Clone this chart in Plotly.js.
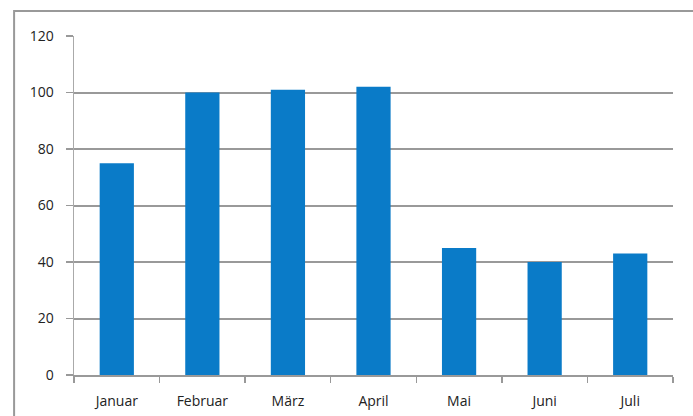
<!DOCTYPE html>
<html>
<head>
<meta charset="utf-8">
<script src="https://cdn.plot.ly/plotly-3.0.1.min.js"></script>
<style>html,body{margin:0;padding:0;background:#fff;overflow:hidden;} #chart{width:693px;height:416px;}</style>
</head>
<body>
<div id="chart"></div>
<script>
const months = ["Januar", "Februar", "März", "April", "Mai", "Juni", "Juli"];
const values = [75, 100, 101, 102, 45, 40, 43];
const yTicks = [0, 20, 40, 60, 80, 100, 120];

const trace = {
  type: "bar",
  x: months,
  y: values,
  marker: {color: "#0a7bc8"},
  hoverinfo: "x+y"
};

const layout = {
  width: 693,
  height: 416,
  margin: {l: 74, r: 20, t: 36, b: 41, pad: 0},
  paper_bgcolor: "#ffffff",
  plot_bgcolor: "#ffffff",
  bargap: 0.6,
  showlegend: false,
  font: {family: "Open Sans, Liberation Sans, sans-serif", size: 14, color: "#222"},
  xaxis: {
    type: "category",
    showgrid: false,
    showline: true,
    linecolor: "#999",
    linewidth: 2,
    ticks: "outside",
    tickson: "boundaries",
    ticklen: 6,
    tickcolor: "#999",
    tickwidth: 1.5,
    tickfont: {size: 14, color: "#222"},
    ticklabelstandoff: 12
  },
  yaxis: {
    range: [0, 120],
    tickvals: yTicks,
    showgrid: true,
    gridcolor: "#999",
    gridwidth: 2,
    zeroline: false,
    showline: true,
    linecolor: "#aaa",
    linewidth: 1.5,
    ticks: "outside",
    ticklen: 7,
    tickcolor: "#999",
    tickwidth: 1.5,
    tickfont: {size: 14, color: "#222"},
    ticklabelstandoff: 9
  },
  shapes: [{
    type: "rect",
    xref: "paper", yref: "paper",
    x0: -0.1, x1: 1.06, y0: -0.14, y1: 1.074,
    line: {color: "#999", width: 2},
    fillcolor: "rgba(0,0,0,0)",
    layer: "above"
  }]
};

Plotly.newPlot("chart", [trace], layout, {displayModeBar: false, staticPlot: true});
</script>
</body>
</html>
